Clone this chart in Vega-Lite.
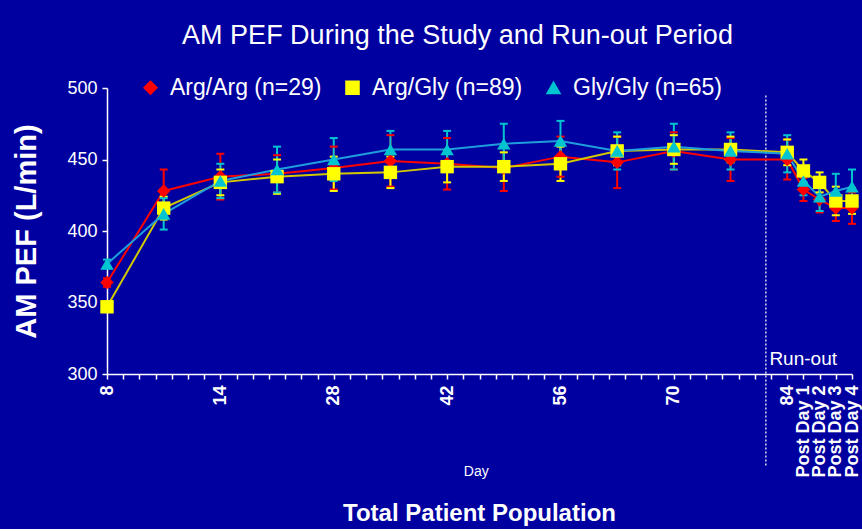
{
  "$schema": "https://vega.github.io/schema/vega-lite/v6.json",
  "background": "#0000A0",
  "padding": {"left": 12, "top": 22, "right": 6, "bottom": 4},
  "width": 745,
  "height": 286,
  "config": {
    "view": {"stroke": null},
    "font": "Liberation Sans",
    "axis": {"grid": false, "domainColor": "white", "tickColor": "white", "labelColor": "white", "titleColor": "white", "domainWidth": 1.5, "tickWidth": 1.5, "tickSize": 5}
  },
  "title": {"text": "AM PEF During the Study and Run-out Period", "color": "white", "fontSize": 27, "fontWeight": "normal", "font": "Liberation Sans", "anchor": "middle", "frame": "group", "offset": 26, "dx": -22},
  "data": {"values": [
    {"pos": 0, "group": "Arg/Arg (n=29)", "v": 364, "lo": 361, "hi": 367},
    {"pos": 3.5, "group": "Arg/Arg (n=29)", "v": 428, "lo": 413, "hi": 443},
    {"pos": 7, "group": "Arg/Arg (n=29)", "v": 438, "lo": 422, "hi": 454},
    {"pos": 10.5, "group": "Arg/Arg (n=29)", "v": 440, "lo": 427, "hi": 453},
    {"pos": 14, "group": "Arg/Arg (n=29)", "v": 444, "lo": 429, "hi": 459},
    {"pos": 17.5, "group": "Arg/Arg (n=29)", "v": 449, "lo": 431, "hi": 467},
    {"pos": 21, "group": "Arg/Arg (n=29)", "v": 447, "lo": 429, "hi": 465},
    {"pos": 24.5, "group": "Arg/Arg (n=29)", "v": 444, "lo": 428, "hi": 460},
    {"pos": 28, "group": "Arg/Arg (n=29)", "v": 452, "lo": 438, "hi": 466},
    {"pos": 31.5, "group": "Arg/Arg (n=29)", "v": 448, "lo": 430, "hi": 466},
    {"pos": 35, "group": "Arg/Arg (n=29)", "v": 456, "lo": 443, "hi": 469},
    {"pos": 38.5, "group": "Arg/Arg (n=29)", "v": 450, "lo": 435, "hi": 465},
    {"pos": 42, "group": "Arg/Arg (n=29)", "v": 450, "lo": 436, "hi": 464},
    {"pos": 43, "group": "Arg/Arg (n=29)", "v": 429, "lo": 421, "hi": 437},
    {"pos": 44, "group": "Arg/Arg (n=29)", "v": 422, "lo": 413, "hi": 431},
    {"pos": 45, "group": "Arg/Arg (n=29)", "v": 416, "lo": 407, "hi": 425},
    {"pos": 46, "group": "Arg/Arg (n=29)", "v": 416, "lo": 405, "hi": 427},
    {"pos": 0, "group": "Arg/Gly (n=89)", "v": 347, "lo": 344, "hi": 350},
    {"pos": 3.5, "group": "Arg/Gly (n=89)", "v": 416, "lo": 408, "hi": 424},
    {"pos": 7, "group": "Arg/Gly (n=89)", "v": 434, "lo": 425, "hi": 443},
    {"pos": 10.5, "group": "Arg/Gly (n=89)", "v": 438, "lo": 426, "hi": 450},
    {"pos": 14, "group": "Arg/Gly (n=89)", "v": 440, "lo": 428, "hi": 452},
    {"pos": 17.5, "group": "Arg/Gly (n=89)", "v": 441, "lo": 430, "hi": 452},
    {"pos": 21, "group": "Arg/Gly (n=89)", "v": 445, "lo": 434, "hi": 456},
    {"pos": 24.5, "group": "Arg/Gly (n=89)", "v": 445, "lo": 435, "hi": 455},
    {"pos": 28, "group": "Arg/Gly (n=89)", "v": 447, "lo": 435, "hi": 459},
    {"pos": 31.5, "group": "Arg/Gly (n=89)", "v": 456, "lo": 446, "hi": 466},
    {"pos": 35, "group": "Arg/Gly (n=89)", "v": 457, "lo": 447, "hi": 467},
    {"pos": 38.5, "group": "Arg/Gly (n=89)", "v": 457, "lo": 448, "hi": 466},
    {"pos": 42, "group": "Arg/Gly (n=89)", "v": 455, "lo": 446, "hi": 464},
    {"pos": 43, "group": "Arg/Gly (n=89)", "v": 442, "lo": 434, "hi": 450},
    {"pos": 44, "group": "Arg/Gly (n=89)", "v": 434, "lo": 427, "hi": 441},
    {"pos": 45, "group": "Arg/Gly (n=89)", "v": 421, "lo": 411, "hi": 431},
    {"pos": 46, "group": "Arg/Gly (n=89)", "v": 421, "lo": 412, "hi": 430},
    {"pos": 0, "group": "Gly/Gly (n=65)", "v": 377, "lo": 374, "hi": 380},
    {"pos": 3.5, "group": "Gly/Gly (n=65)", "v": 412, "lo": 401, "hi": 423},
    {"pos": 7, "group": "Gly/Gly (n=65)", "v": 435, "lo": 423, "hi": 447},
    {"pos": 10.5, "group": "Gly/Gly (n=65)", "v": 443, "lo": 427, "hi": 459},
    {"pos": 14, "group": "Gly/Gly (n=65)", "v": 450, "lo": 435, "hi": 465},
    {"pos": 17.5, "group": "Gly/Gly (n=65)", "v": 457, "lo": 444, "hi": 470},
    {"pos": 21, "group": "Gly/Gly (n=65)", "v": 457, "lo": 444, "hi": 470},
    {"pos": 24.5, "group": "Gly/Gly (n=65)", "v": 461, "lo": 447, "hi": 475},
    {"pos": 28, "group": "Gly/Gly (n=65)", "v": 463, "lo": 449, "hi": 477},
    {"pos": 31.5, "group": "Gly/Gly (n=65)", "v": 456, "lo": 443, "hi": 469},
    {"pos": 35, "group": "Gly/Gly (n=65)", "v": 459, "lo": 443, "hi": 475},
    {"pos": 38.5, "group": "Gly/Gly (n=65)", "v": 456, "lo": 443, "hi": 469},
    {"pos": 42, "group": "Gly/Gly (n=65)", "v": 454, "lo": 441, "hi": 467},
    {"pos": 43, "group": "Gly/Gly (n=65)", "v": 435, "lo": 425, "hi": 445},
    {"pos": 44, "group": "Gly/Gly (n=65)", "v": 424, "lo": 414, "hi": 434},
    {"pos": 45, "group": "Gly/Gly (n=65)", "v": 428, "lo": 416, "hi": 440},
    {"pos": 46, "group": "Gly/Gly (n=65)", "v": 431, "lo": 419, "hi": 443}
  ]},
  "encoding": {
    "x": {
      "field": "pos", "type": "quantitative",
      "scale": {"domain": [0, 46], "nice": false, "zero": false},
      "axis": {
        "title": "Total Patient Population", "titleFontSize": 24, "titleFontWeight": "bold", "titleY": 139, "titleX": 372, "titleBaseline": "middle",
        "values": [0,1,2,3,4,5,6,7,8,9,10,11,12,13,14,15,16,17,18,19,20,21,22,23,24,25,26,27,28,29,30,31,32,33,34,35,36,37,38,39,40,41,42,43,44,45,46],
        "labelExpr": "datum.value==0?'8':datum.value==7?'14':datum.value==14?'28':datum.value==21?'42':datum.value==28?'56':datum.value==35?'70':datum.value==42?'84':datum.value>42?'Post Day '+(datum.value-42):''",
        "labelAngle": 270, "labelAlign": "right", "labelBaseline": "middle",
        "labelFontWeight": "bold",
        "labelFontSize": 18,
        "labelOverlap": false, "labelPadding": 6, "labelFlush": false
      }
    },
    "y": {
      "field": "v", "type": "quantitative",
      "scale": {"domain": [300, 500], "nice": false, "zero": false},
      "axis": {"title": "AM PEF (L/min)", "titleFontSize": 29, "titleFontWeight": "bold", "titlePadding": 25, "values": [300, 350, 400, 450, 500], "labelFontSize": 18, "labelPadding": 5}
    }
  },
  "layer": [
    {
      "transform": [{"filter": "datum.pos == 0 && datum.group == 'Arg/Arg (n=29)'"}],
      "mark": {"type": "rule", "color": "#D8D8F0", "strokeWidth": 1.5, "strokeDash": [2, 2]},
      "encoding": {"x": {"datum": 40.68}, "y": {"datum": 236}, "y2": {"datum": 496}}
    },
    {
      "transform": [{"filter": "datum.group == 'Arg/Arg (n=29)'"}],
      "mark": {"type": "line", "strokeWidth": 2, "color": "#FF0000"},
      "encoding": {}
    },
    {
      "transform": [{"filter": "datum.group == 'Arg/Gly (n=89)'"}],
      "mark": {"type": "line", "strokeWidth": 2, "color": "#D2C800"},
      "encoding": {}
    },
    {
      "transform": [{"filter": "datum.group == 'Gly/Gly (n=65)'"}],
      "mark": {"type": "line", "strokeWidth": 2, "color": "#1E9EDC"},
      "encoding": {}
    },
    {
      "mark": {"type": "rule", "strokeWidth": 2},
      "encoding": {
        "y": {"field": "lo", "type": "quantitative"},
        "y2": {"field": "hi"},
        "color": {"field": "group", "type": "nominal"}
      }
    },
    {
      "mark": {"type": "point", "shape": "M-1,0L1,0", "filled": false, "strokeWidth": 2, "size": 64, "opacity": 1},
      "encoding": {
        "y": {"field": "lo", "type": "quantitative"},
        "color": {"field": "group", "type": "nominal"}
      }
    },
    {
      "mark": {"type": "point", "shape": "M-1,0L1,0", "filled": false, "strokeWidth": 2, "size": 64, "opacity": 1},
      "encoding": {
        "y": {"field": "hi", "type": "quantitative"},
        "color": {"field": "group", "type": "nominal"}
      }
    },
    {
      "mark": {"type": "point", "filled": true, "size": 180, "opacity": 1},
      "encoding": {
        "color": {"field": "group", "type": "nominal",
          "scale": {"domain": ["Arg/Arg (n=29)", "Arg/Gly (n=89)", "Gly/Gly (n=65)"], "range": ["#FF0000", "#FFFF00", "#00C4D0"]},
          "legend": {"orient": "none", "legendX": 32, "legendY": -12, "direction": "horizontal", "labelColor": "white", "labelFontSize": 23, "symbolSize": 170, "columnPadding": 19, "labelOffset": 8, "title": null}},
        "shape": {"field": "group", "type": "nominal",
          "scale": {"domain": ["Arg/Arg (n=29)", "Arg/Gly (n=89)", "Gly/Gly (n=65)"], "range": ["diamond", "square", "triangle-up"]},
          "legend": {"orient": "none", "legendX": 32, "legendY": -12, "direction": "horizontal", "labelColor": "white", "labelFontSize": 23, "symbolSize": 170, "columnPadding": 19, "labelOffset": 8, "title": null}}
      }
    },
    {
      "transform": [{"filter": "datum.pos == 0 && datum.group == 'Arg/Arg (n=29)'"}],
      "mark": {"type": "text", "color": "white", "fontSize": 19, "align": "left", "baseline": "alphabetic"},
      "encoding": {"x": {"datum": 40.9}, "y": {"datum": 306}, "text": {"value": "Run-out"}}
    },
    {
      "transform": [{"filter": "datum.pos == 0 && datum.group == 'Arg/Arg (n=29)'"}],
      "mark": {"type": "text", "color": "white", "fontSize": 14, "align": "center", "baseline": "alphabetic"},
      "encoding": {"x": {"datum": 22.8}, "y": {"datum": 229}, "text": {"value": "Day"}}
    }
  ]
}
